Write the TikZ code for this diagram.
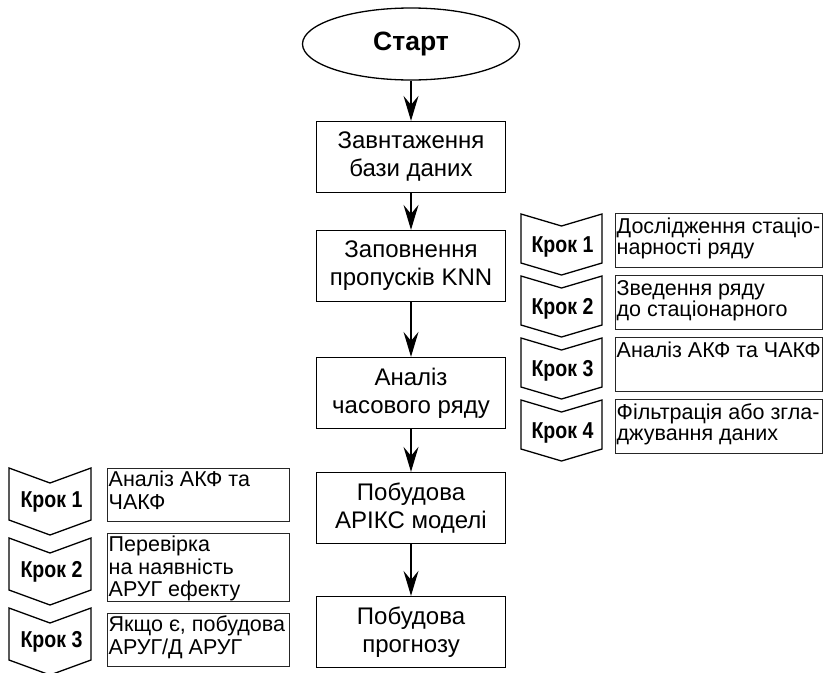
\documentclass[tikz,border=0pt]{standalone}
\usepackage{fontspec}
\usepackage{graphicx}
\setmainfont{Liberation Sans}
\usetikzlibrary{shapes.geometric,arrows.meta}
\newcommand{\narrowlbl}[1]{\scalebox{0.85}[1]{#1}}
\begin{document}
\begin{tikzpicture}[x=1pt,y=-1pt,
  mainbox/.style={draw, line width=1.3pt, rectangle, minimum width=189pt, minimum height=71pt, align=center, font=\fontsize{24}{28}\selectfont, inner sep=0pt},
  startnode/.style={draw, ellipse, line width=1.3pt, minimum width=217pt, minimum height=72pt, font=\bfseries\fontsize{26.5}{30}\selectfont, inner sep=0pt},
  flow/.style={-{Stealth[length=25pt,width=15pt,inset=9pt]}, line width=1.4pt},
  sidebox/.style={draw, line width=1.1pt, draw=black!85, rectangle, anchor=north west, inner sep=0pt},
  sidetext/.style={anchor=north west, inner sep=0pt, align=left, font=\fontsize{21.5}{21}\selectfont},
  sidetextL/.style={anchor=north west, inner sep=0pt, align=left, font=\fontsize{21.5}{22.5}\selectfont},
  chevlabel/.style={font=\bfseries\fontsize{23}{24}\selectfont, inner sep=0pt},
  chev/.style={draw, line width=1.3pt, line join=miter}
]
\useasboundingbox (0,0) rectangle (824,672);

% main flow
\node[startnode] (start) at (411,44) {Старт};
\node[mainbox] (b1) at (411,157) {Завнтаження\\бази даних};
\node[mainbox] (b2) at (411,266) {Заповнення\\пропусків KNN};
\node[mainbox] (b3) at (411,393) {Аналіз\\часового ряду};
\node[mainbox] (b4) at (411,508) {Побудова\\АРІКС моделі};
\node[mainbox] (b5) at (411,632) {Побудова\\прогнозу};

\draw[flow] (start.south) -- (b1.north);
\draw[flow] (b1.south) -- (b2.north);
\draw[flow] (b2.south) -- (b3.north);
\draw[flow] (b3.south) -- (b4.north);
\draw[flow] (b4.south) -- (b5.north);

% right chevrons
\foreach \i/\yt in {1/214,2/276,3/338,4/400} {
  \draw[chev] (521,\yt) -- (561.5,\yt+12) -- (602,\yt) -- (602,\yt+49) -- (561.5,\yt+61) -- (521,\yt+49) -- cycle;
  \node[chevlabel] (rc\i) at (562.5,\yt+33) {\narrowlbl{Крок \i}};
}
% right boxes
\node[sidebox, minimum width=207pt, minimum height=54pt] (r1) at (615,213) {};
\node[sidebox, minimum width=207pt, minimum height=54pt] (r2) at (615,275) {};
\node[sidebox, minimum width=207pt, minimum height=54pt] (r3) at (615,337) {};
\node[sidebox, minimum width=207pt, minimum height=54pt] (r4) at (615,399) {};
\node[sidetext] (r1t) at (616.5,218) {Дослідження стаціо-\\нарності ряду};
\node[sidetext] (r2t) at (616.5,280) {Зведення ряду\\до стаціонарного};
\node[sidetext] (r3t) at (616.5,342) {Аналіз АКФ та ЧАКФ};
\node[sidetext] (r4t) at (616.5,404) {Фільтрація або згла-\\джування даних};

% left chevrons
\foreach \i/\yt in {1/468,2/538,3/608} {
  \draw[chev] (9,\yt) -- (50,\yt+15) -- (91,\yt) -- (91,\yt+52) -- (50,\yt+67) -- (9,\yt+52) -- cycle;
  \node[chevlabel] (lc\i) at (51.5,\yt+34) {\narrowlbl{Крок \i}};
}
% left boxes
\node[sidebox, minimum width=182pt, minimum height=53pt] (l1) at (107,468) {};
\node[sidebox, minimum width=182pt, minimum height=68pt] (l2) at (107,533) {};
\node[sidebox, minimum width=182pt, minimum height=53pt] (l3) at (107,613) {};
\node[sidetextL] (l1t) at (108.5,471) {Аналіз АКФ та\\ЧАКФ};
\node[sidetextL] (l2t) at (108.5,536) {Перевірка\\на наявність\\АРУГ ефекту};
\node[sidetextL] (l3t) at (108.5,616) {Якщо є, побудова\\АРУГ/Д АРУГ};
\end{tikzpicture}
\end{document}
